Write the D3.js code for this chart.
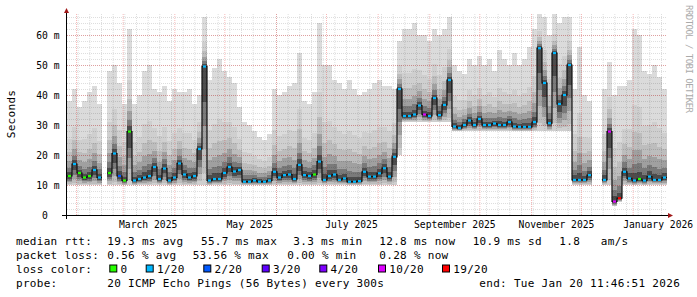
<!DOCTYPE html>
<html>
<head>
<meta charset="utf-8">
<script src="https://cdn.jsdelivr.net/npm/d3@7"></script>
<style>
	body { margin: 0; background: #fff; }
	#smoke-chart { width: 697px; height: 297px; }
	#smoke-chart text { font-family: "DejaVu Sans Mono", monospace; fill: #000; white-space: pre; }
</style>
</head>
<body>
<div id="smoke-chart"></div>
<script>

// ------------------------ data ------------------------------

// one column every 3 days, first column starts at startDate
var startDate = new Date(Date.UTC(2025, 0, 26, 14, 24));
var stepDays = 3;
var spanDays = 360;

// median rtt per column (ms), null = no data
var medianRtt = [
	13, 17, 14, 12.5, 13, 15, 12.5, null, 14, 20.5,
	13, 11.5, 27.8, 11.5, 12, 12.5, 13, 16, 12, 15.5,
	11.5, 12.5, 17.2, 13.5, 12.5, 13, 22, 49.5, 11.5, 12,
	12, 14, 16, 14.5, 15, 11.1, 11.1, 11.5, 11.1, 11.1,
	11.5, 14.4, 12.5, 13.3, 13.5, 12, 16.7, 13.3, 13, 13.5,
	17.8, 11.7, 13, 13.5, 11.7, 12.2, 11.1, 11.1, 11.3, 14.4,
	12.8, 12.8, 13.9, 15.6, 12.8, 19.4, 42, 33, 33, 33.5,
	36.5, 33.5, 33, 39, 33.3, 36.7, 45, 29.5, 29, 30,
	31.5, 30, 32, 30, 30, 30.5, 30, 30, 31, 29.5,
	29.4, 29.4, 29.4, 31, 55.6, 44, 30.6, 54, 37, 40,
	50, 11.7, 11.7, 11.7, 13.3, null, null, 11.7, 27.8, 4.5,
	5.6, 14.4, 12.2, 11.5, 12, 11.5, 12.8, 11.7, 11.7, 12.5
];

// slowest ping per column (ms)
var maxRtt = [
	38, 42, 36, 38, 41, 43, 37, null, 48, 50,
	44, 37, 62, 37, 40, 48, 50, 42, 41, 43,
	38, 42, 41, 41, 42, 37, 40, 66, 45, 49,
	52, 48, 46, 44, 36, 31, 30, 28, 26, 25,
	27, 42, 40, 41, 43, 44, 54, 38, 37, 41,
	64, 50, 50, 45, 44, 42, 45, 42, 40, 41,
	42, 44, 45, 43, 43, 42, 58, 62, 62, 64,
	60, 60, 58, 62, 60, 62, 66, 50, 48, 47,
	52, 50, 53, 50, 52, 48, 55, 52, 50, 54,
	50, 52, 56, 62, 67, 66, 60, 67, 64, 66,
	66, 42, 56, 40, 38, null, null, 42, 51, 40,
	43, 43, 45, 62, 60, 48, 47, 50, 46, 42
];

// fastest ping per column (ms)
var minRtt = [
	10, 10, 10, 10, 10, 10, 10, null, 10, 10,
	10, 10, 10, 10, 10, 10, 10, 10, 10, 10,
	10, 10, 10, 10, 10, 10, 10, 10, 10, 10,
	10, 10, 10, 10, 10, 10, 10, 10, 10, 10,
	10, 10, 10, 10, 10, 10, 10, 10, 10, 10,
	10, 10, 10, 10, 10, 10, 10, 10, 10, 10,
	10, 10, 10, 10, 10, 10, 20, 31, 31, 31,
	31, 31, 31, 31, 31, 31, 31, 28, 28, 28,
	28, 28, 28, 28, 28, 28, 28, 28, 28, 28,
	28, 28, 28, 28, 28, 28, 28, 28, 28, 28,
	28, 10, 10, 10, 10, null, null, 10, 10, 3,
	4.5, 10, 10, 10, 10, 10, 10, 10, 10, 10
];

// lost pings (out of 20) per column
var lossCount = [
	0, 1, 0, 0, 0, 1, 1, null, 0, 1,
	2, 0, 0, 1, 1, 1, 1, 1, 1, 1,
	1, 1, 1, 1, 1, 1, 1, 1, 1, 1,
	1, 1, 1, 1, 1, 1, 1, 1, 1, 1,
	1, 1, 1, 1, 1, 1, 1, 1, 1, 0,
	1, 1, 1, 1, 1, 1, 1, 1, 1, 1,
	1, 1, 1, 1, 1, 1, 1, 1, 1, 1,
	1, 10, 1, 1, 1, 1, 1, 1, 1, 1,
	1, 1, 1, 1, 1, 1, 1, 1, 1, 1,
	1, 1, 1, 1, 1, 1, 1, 1, 1, 1,
	1, 1, 1, 1, 1, null, null, 1, 10, 10,
	19, 1, 1, 1, 0, 1, 1, 1, 1, 1
];

var lossKeys   = [0, 1, 2, 3, 4, 10, 19];
var lossLabels = ["0", "1/20", "2/20", "3/20", "4/20", "10/20", "19/20"];
var lossColors = ["#26ff00", "#00b8ff", "#0059ff", "#5e00ff", "#7e00ff", "#dd00ff", "#ff0000"];

var yTicks = [0, 10, 20, 30, 40, 50, 60];
var monthLabels = ["March 2025", "May 2025", "July 2025", "September 2025", "November 2025", "January 2026"];
var monthLabelDates = [
	new Date(Date.UTC(2025, 2, 16)), new Date(Date.UTC(2025, 4, 16)), new Date(Date.UTC(2025, 6, 16)),
	new Date(Date.UTC(2025, 8, 16)), new Date(Date.UTC(2025, 10, 16)), new Date(Date.UTC(2026, 0, 16))
];

var medianStats = ["19.3 ms avg", "55.7 ms max", "3.3 ms min", "12.8 ms now", "10.9 ms sd", "1.8   am/s"];
var lossStats   = ["0.56 % avg", "53.56 % max", "0.00 % min", "0.28 % now"];
var probeText   = "20 ICMP Echo Pings (56 Bytes) every 300s";
var endText     = "end: Tue Jan 20 11:46:51 2026";


// ------------------------ chart ------------------------------

var build_smokeChart = function() {

	var svgWidth = 697, svgHeight = 297;
	var plot = { left: 67, right: 667, top: 14, bottom: 215 };
	var plotHeight = plot.bottom - plot.top;

	var svg = d3.select("#smoke-chart").append("svg")
			.attr("width", svgWidth)
			.attr("height", svgHeight)
			.attr("viewBox", "0 0 " + svgWidth + " " + svgHeight);

	svg.append("rect").attr("width", svgWidth).attr("height", svgHeight).attr("fill", "#fff");

	// set the ranges
	var x = d3.scaleUtc()
				.domain([startDate, d3.utcDay.offset(startDate, spanDays)])
				.range([plot.left, plot.right]);
	var y = d3.scaleLinear()
				.domain([0, 67])
				.range([plot.bottom, plot.top]);

	var columns = medianRtt.map(function(m, i) {
		return {
			t0: d3.utcDay.offset(startDate, i * stepDays),
			t1: d3.utcDay.offset(startDate, (i + 1) * stepDays),
			med: m, lo: minRtt[i], hi: maxRtt[i], loss: lossCount[i]
		};
	});
	var valid = columns.filter(function(d) { return d.med !== null; });

	// smoke: layered greys, darker towards the median
	var bands = [
		{ down: 0,    up: 1,    fill: "#dbdbdb" },
		{ down: 0,    up: 0.5,  fill: "#cfcfcf" },
		{ down: 0.1,  up: 0.32, fill: "#bdbdbd" },
		{ down: 0.3,  up: 0.2,  fill: "#a0a0a0" },
		{ down: 0.5,  up: 0.11, fill: "#7a7a7a" },
		{ down: 0.7,  up: 0.05, fill: "#4c4c4c" }
	];
	var smoke = svg.append("g").attr("shape-rendering", "crispEdges");
	bands.forEach(function(b) {
		smoke.append("g").selectAll("rect")
			.data(valid)
			.enter().append("rect")
				.attr("x", function(d) { return x(d.t0); })
				.attr("width", function(d) { return x(d.t1) - x(d.t0); })
				.attr("y", function(d) { return y(d.med + b.up * (d.hi - d.med)); })
				.attr("height", function(d) {
					return y(d.lo + b.down * (d.med - d.lo)) - y(d.med + b.up * (d.hi - d.med)); })
				.attr("fill", b.fill);
	});

	// grid
	var gridXMinor = svg.append("g")
					.attr("transform", "translate(0," + plot.bottom + ")")
					.call(d3.axisBottom(x).ticks(d3.utcSunday.every(1)).tickSize(-plotHeight).tickFormat(""));
	gridXMinor.select(".domain").remove();
	gridXMinor.selectAll("line").attr("stroke", "#000").attr("stroke-opacity", 0.13).attr("stroke-dasharray", "1,1");

	var gridYMinor = svg.append("g")
					.attr("transform", "translate(" + plot.left + ",0)")
					.call(d3.axisLeft(y).tickValues(d3.range(2, 67, 2)).tickSize(-(plot.right - plot.left)).tickFormat(""));
	gridYMinor.select(".domain").remove();
	gridYMinor.selectAll("line").attr("stroke", "#000").attr("stroke-opacity", 0.13).attr("stroke-dasharray", "1,1");

	var gridXMajor = svg.append("g")
					.attr("transform", "translate(0," + plot.bottom + ")")
					.call(d3.axisBottom(x).ticks(d3.utcMonth.every(1)).tickSize(-plotHeight).tickFormat(""));
	gridXMajor.select(".domain").remove();
	gridXMajor.selectAll("line").attr("stroke", "#e00000").attr("stroke-opacity", 0.28).attr("stroke-dasharray", "1,1");

	var gridYMajor = svg.append("g")
					.attr("transform", "translate(" + plot.left + ",0)")
					.call(d3.axisLeft(y).tickValues(yTicks.slice(1)).tickSize(-(plot.right - plot.left)).tickFormat(""));
	gridYMajor.select(".domain").remove();
	gridYMajor.selectAll("line").attr("stroke", "#e00000").attr("stroke-opacity", 0.28).attr("stroke-dasharray", "1,1");

	// median line, coloured by packet loss
	var medianPts = [];
	columns.forEach(function(c) {
		if (c.med === null) medianPts.push(null);
		else medianPts.push([x(c.t0), y(c.med)], [x(c.t1), y(c.med)]);
	});
	svg.append("path")
		.datum(medianPts)
		.attr("fill", "none")
		.attr("stroke", "#111")
		.attr("stroke-width", 1.2)
		.attr("d", d3.line().defined(function(d) { return d !== null; })
						.x(function(d) { return d[0]; }).y(function(d) { return d[1]; }));

	svg.append("g").selectAll("line")
		.data(valid)
		.enter().append("line")
			.attr("x1", function(d) { return x(d.t0) + 1; })
			.attr("x2", function(d) { return x(d.t1) - 1; })
			.attr("y1", function(d) { return y(d.med); })
			.attr("y2", function(d) { return y(d.med); })
			.attr("stroke", function(d) { return lossColors[lossKeys.indexOf(d.loss)]; })
			.attr("stroke-width", 2.2);

	// axes
	svg.append("line")
		.attr("x1", plot.left - 5).attr("x2", plot.right + 2)
		.attr("y1", plot.bottom + 0.5).attr("y2", plot.bottom + 0.5)
		.attr("stroke", "#000");
	svg.append("line")
		.attr("x1", plot.left - 0.5).attr("x2", plot.left - 0.5)
		.attr("y1", plot.bottom + 4).attr("y2", plot.top - 1)
		.attr("stroke", "#000");
	svg.append("path")
		.attr("d", "M" + (plot.right + 1) + "," + (plot.bottom - 2) + "L" + (plot.right + 6) + "," + (plot.bottom + 0.5) +
				"L" + (plot.right + 1) + "," + (plot.bottom + 3) + "Z")
		.attr("fill", "#a01818");
	svg.append("path")
		.attr("d", "M" + (plot.left - 3) + "," + (plot.top - 1) + "L" + (plot.left - 0.5) + "," + (plot.top - 6) +
				"L" + (plot.left + 2) + "," + (plot.top - 1) + "Z")
		.attr("fill", "#a01818");

	var axisX = svg.append("g")
					.attr("transform", "translate(0," + plot.bottom + ")")
					.call(d3.axisBottom(x).tickValues(monthLabelDates).tickSize(0).tickPadding(6.6)
							.tickFormat(function(d, i) { return monthLabels[i]; }));
	axisX.select(".domain").remove();
	axisX.attr("font-family", null).attr("font-size", null);
	axisX.selectAll("text").attr("font-size", "9.7px");

	var axisY = svg.append("g")
					.attr("transform", "translate(" + plot.left + ",0)")
					.call(d3.axisLeft(y).tickValues(yTicks).tickSize(0).tickPadding(7.5)
							.tickFormat(function(d) { return d === 0 ? "0" : d + " m"; }));
	axisY.select(".domain").remove();
	axisY.attr("font-family", null).attr("font-size", null);
	axisY.selectAll("text").attr("font-size", "9.7px");
	axisY.selectAll(".tick text").filter(function(d) { return d === 0; }).attr("x", -(7.5 + 2 * 5.84));

	svg.append("text")
		.attr("transform", "translate(15,114) rotate(-90)")
		.attr("text-anchor", "middle")
		.attr("font-size", "11px")
		.attr("letter-spacing", "0.3px")
		.text("Seconds");

	svg.append("text")
		.attr("transform", "translate(685.5,5) rotate(90)")
		.attr("font-size", "9px")
		.attr("textLength", 108)
		.attr("lengthAdjust", "spacing")
		.style("fill", "#aaaaaa")
		.text("RRDTOOL / TOBI OETIKER");

	// legend
	var legend = svg.append("g").attr("font-size", "11px").attr("letter-spacing", "0.3px");
	var rowY = [244.5, 258.5, 272.5, 286.5];
	var addText = function(tx, ty, s) {
		legend.append("text").attr("x", tx).attr("y", ty).attr("xml:space", "preserve").text(s);
	};

	addText(16, rowY[0], "median rtt:");
	[107.3, 201, 293.3, 379.3, 472.7, 559.3].forEach(function(px, i) { addText(px, rowY[0], medianStats[i]); });

	addText(16, rowY[1], "packet loss:");
	[107.3, 192.7, 287.3, 379.3].forEach(function(px, i) { addText(px, rowY[1], lossStats[i]); });

	addText(16, rowY[2], "loss color:");
	[109.3, 145.7, 203.3, 261.7, 319.3, 378, 442].forEach(function(px, i) {
		legend.append("rect")
			.attr("x", px + 0.5).attr("y", rowY[2] - 7.5)
			.attr("width", 7).attr("height", 7)
			.attr("fill", lossColors[i])
			.attr("stroke", "#000").attr("stroke-width", 1);
		addText(px + 11.3, rowY[2], lossLabels[i]);
	});

	addText(16, rowY[3], "probe:");
	addText(107.3, rowY[3], probeText);
	addText(479.3, rowY[3], endText);

}

build_smokeChart();

</script>
</body>
</html>
